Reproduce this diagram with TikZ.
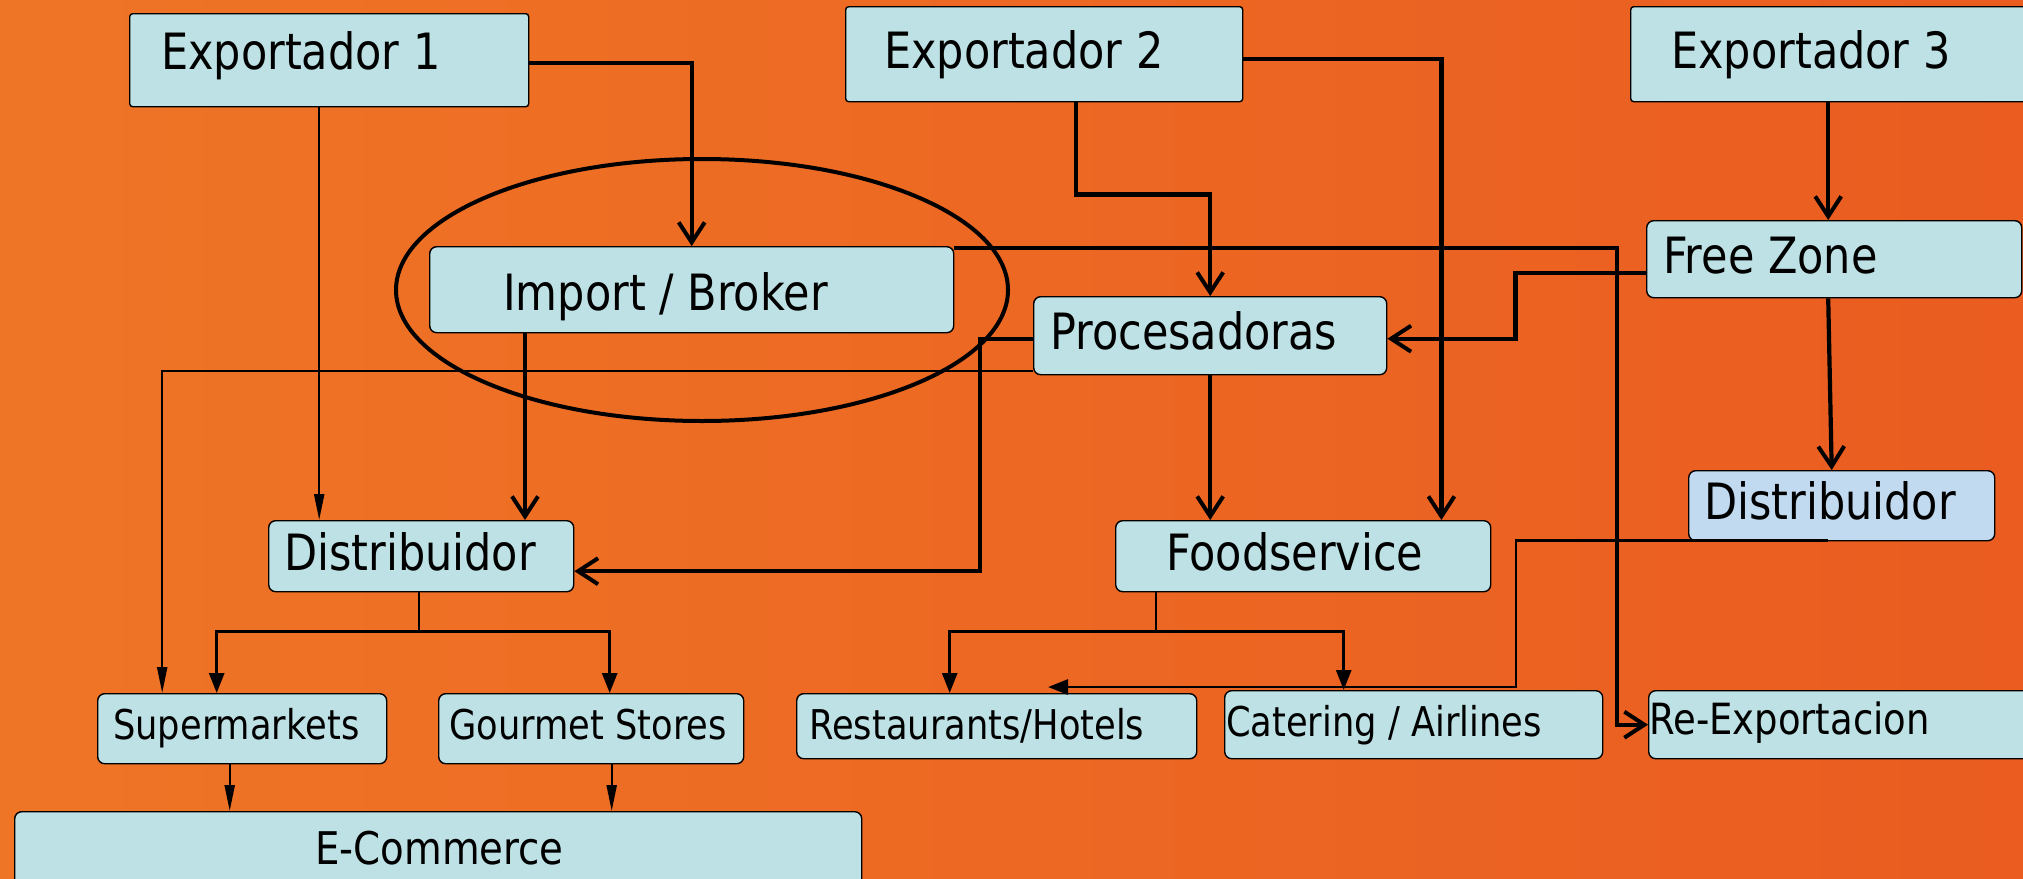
\documentclass[tikz,border=0pt]{standalone}
\usepackage{fontspec}
\setmainfont{DejaVu Sans}
\newfontfamily\bigf[FakeStretch=0.86]{DejaVu Sans}
\usetikzlibrary{arrows.meta,shapes.geometric}
\definecolor{bgA}{HTML}{EF7526}
\definecolor{bgB}{HTML}{EA5C20}
\definecolor{boxc}{HTML}{BDE1E4}
\definecolor{boxb}{HTML}{C2DAF0}
\begin{document}
\begin{tikzpicture}[x=1pt,y=-1pt,
  box/.style={draw=black, line width=1.4pt, fill=boxc, rounded corners=7pt, inner sep=0pt, anchor=north west},
  sqbox/.style={box, rounded corners=3pt},
  lbl/.style={font=\bigf\fontsize{50}{60}\selectfont, inner sep=0pt, anchor=base west, text=black},
  slbl/.style={font=\bigf\fontsize{41}{50}\selectfont, inner sep=0pt, anchor=base west, text=black},
  thk/.style={line width=4.2pt, -{Straight Barb[length=20pt,width=26pt,line width=4pt]}},
  thn/.style={line width=2.2pt, -{Triangle[length=26pt,width=10pt]}},
  med/.style={line width=2.8pt, -{Triangle[length=20pt,width=15pt]}},
  plain/.style={line width=2pt}
]
\shade[left color=bgA, right color=bgB] (0,0) rectangle (2023,878);
\useasboundingbox (0,0) rectangle (2023,878);
\clip (0,0) rectangle (2023,878);

% oval around Import / Broker
\node[draw=black, line width=4pt, ellipse, minimum width=612pt, minimum height=262pt, inner sep=0pt] (oval) at (702,290) {};

% boxes
\node[sqbox, minimum width=399pt, minimum height=93pt] (exp1) at (129,13) {};
\node[sqbox, minimum width=397pt, minimum height=95pt] (exp2) at (845,6) {};
\node[sqbox, minimum width=410pt, minimum height=95pt] (exp3) at (1630,6) {};
\node[box, minimum width=524pt, minimum height=86pt] (import) at (429,246) {};
\node[box, minimum width=353pt, minimum height=78pt] (proc) at (1033,296) {};
\node[box, minimum width=375pt, minimum height=77pt] (free) at (1646,220) {};
\node[box, fill=boxb, minimum width=306pt, minimum height=70pt] (distR) at (1688,470) {};
\node[box, minimum width=305pt, minimum height=71pt] (distL) at (268,520) {};
\node[box, minimum width=375pt, minimum height=71pt] (food) at (1115,520) {};
\node[box, minimum width=289pt, minimum height=70pt] (super) at (97,693) {};
\node[box, minimum width=305pt, minimum height=70pt] (gourmet) at (438,693) {};
\node[box, minimum width=400pt, minimum height=65pt] (rest) at (796,693) {};
\node[box, minimum width=378pt, minimum height=68pt] (cater) at (1224,690) {};
\node[box, minimum width=392pt, minimum height=68pt] (reexp) at (1648,690) {};
\node[box, minimum width=847pt, minimum height=95pt] (ecom) at (14,811) {};

% connector helper coordinates (derived from nodes)
\coordinate (e1b) at ([xshift=-10pt]exp1.south);
\coordinate (ib) at ([xshift=96pt]import.south west);
\coordinate (ps) at ([yshift=-35pt]proc.west);
\coordinate (sn) at ([xshift=-80pt]super.north);
\coordinate (pw) at ([yshift=-3pt]proc.west);
\coordinate (de) at ([yshift=-15pt]distL.east);
\coordinate (k1) at ([xshift=-53pt]proc.west);
\coordinate (e2b) at ([xshift=31.5pt]exp2.south);
\coordinate (e2e) at ([yshift=-4.5pt]exp2.east);
\coordinate (fn2) at ([xshift=-50pt]food.north east);
\coordinate (ie) at ([yshift=-2pt]import.north east);
\coordinate (fw) at ([yshift=-13.5pt]free.west);
\coordinate (pe) at ([yshift=-3pt]proc.east);
\coordinate (rtip) at ([xshift=252pt,yshift=6pt]rest.north west);
\coordinate (drs) at ([xshift=-14pt,yshift=1pt]distR.south);
\coordinate (dlb) at ([xshift=-2.5pt]distL.south);
\coordinate (sn2) at ([xshift=-25.5pt]super.north);
\coordinate (gn) at ([xshift=18.5pt]gourmet.north);
\coordinate (fb) at ([xshift=-147.5pt]food.south);
\coordinate (rn) at ([xshift=-47pt]rest.north);
\coordinate (cn) at ([xshift=-70pt]cater.north);
\coordinate (ss) at ([xshift=-12.5pt]super.south);
\coordinate (gs) at ([xshift=20.5pt]gourmet.south);
\coordinate (e3b) at ([xshift=-6pt]free.north);
\coordinate (fs) at ([xshift=-6pt]free.south);
\coordinate (dn) at ([xshift=-10pt]distR.north);

% connectors
\draw[thk] ([yshift=-3pt]exp1.east) -| (import.north);
\draw[thn] (e1b) -- (e1b |- distL.north);
\draw[thk] (ib) -- (ib |- distL.north);
\draw[thn] (ps) -| (sn);
\draw[thk] (pw) -| (k1 |- de) -- (de);
\draw[thk] (e2b) -- ++(0,92) -| (proc.north);
\draw[thk] (e2e) -| (fn2);
\draw[thk] (ie) -| ([xshift=-31pt]reexp.west) -- (reexp.west);
\draw[thk] (fw) -| ([xshift=128pt]pe) -- (pe);
\draw[thk] (e3b |- exp3.south) -- (e3b);
\draw[thk] (fs) -- (dn);
\draw[thk] (proc.south) -- (proc.south |- food.north);
\draw[med] (drs) -| ([xshift=468pt]rtip) -- (rtip);
\draw[plain] (dlb) -- ++(0,39) coordinate (dlj);
\draw[med] (dlj) -| (sn2);
\draw[med] (dlj) -| (gn);
\draw[plain] (fb) -- ++(0,39) coordinate (fj);
\draw[med] (fj) -| (rn);
\draw[med] (fj) -| (cn);
\draw[thn] (ss) -- (ss |- ecom.north);
\draw[thn] (gs) -- (gs |- ecom.north);

% labels
\node[lbl] (exp1t) at (161,69) {Exportador 1};
\node[lbl] (exp2t) at (884,68) {Exportador 2};
\node[lbl] (exp3t) at (1671,68) {Exportador 3};
\node[lbl] (importt) at (503,310) {Import / Broker};
\node[lbl] (proct) at (1050,349) {Procesadoras};
\node[lbl] (freet) at (1663,273) {Free Zone};
\node[lbl] (distRt) at (1704,519) {Distribuidor};
\node[lbl] (distLt) at (284,570) {Distribuidor};
\node[lbl] (foodt) at (1166,570) {Foodservice};
\node[slbl] (supert) at (113,739) {Supermarkets};
\node[slbl] (gourmett) at (449,739) {Gourmet Stores};
\node[slbl] (restt) at (809,739) {Restaurants/Hotels};
\node[slbl] (catert) at (1226,736) {Catering / Airlines};
\node[slbl, font=\bigf\fontsize{43}{50}\selectfont] (reexpt) at (1649,734) {Re-Exportacion};
\node[slbl, font=\bigf\fontsize{45}{54}\selectfont] (ecomt) at (315,864) {E-Commerce};
\end{tikzpicture}
\end{document}
